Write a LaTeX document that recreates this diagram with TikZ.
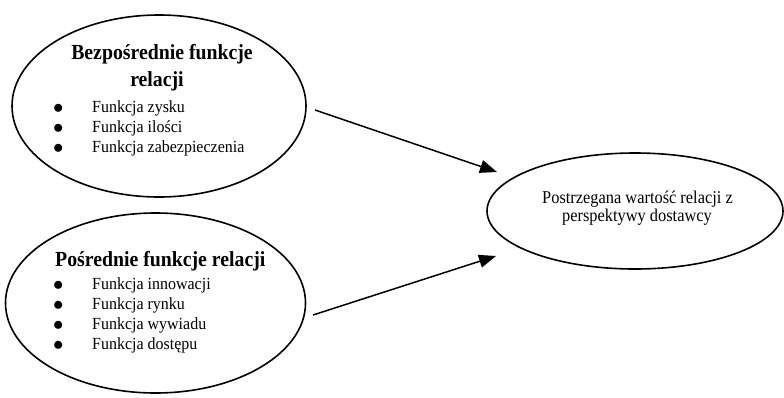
\documentclass[tikz,border=0pt]{standalone}
\usepackage{fontspec}
\setmainfont{Liberation Serif}
\newfontfamily\headfont{Liberation Serif}[FakeStretch=0.92]
\newfontfamily\itemfont{Liberation Serif}[FakeStretch=0.94]
\newfontfamily\goalfont{Liberation Serif}[FakeStretch=0.91]
\usetikzlibrary{shapes.geometric,arrows.meta}

\tikzset{
  oval/.style={draw=black, line width=1.6pt, ellipse, inner sep=0pt},
  heading/.style={inner sep=0pt, font=\headfont\bfseries\fontsize{21.5}{21.5}\selectfont},
  entry/.style={inner sep=0pt, anchor=base west, font=\itemfont\fontsize{17}{17}\selectfont},
  goaltext/.style={inner sep=0pt, anchor=base, font=\goalfont\fontsize{18}{18}\selectfont},
  link/.style={draw=black, line width=1.5pt, -{Triangle[length=17pt,width=13pt]}}
}
% bullet list line: large dot, then the item text at a fixed indent
\newcommand{\bul}[1]{\makebox[39pt][l]{{\fontsize{21}{21}\selectfont\raisebox{-1pt}{$\bullet$}}}#1}

\begin{document}
\begin{tikzpicture}[x=1pt, y=-1pt]
  \useasboundingbox (0,0) rectangle (784,397);

  % ellipses
  \node[oval, minimum width=294pt, minimum height=182pt] (direct) at (159,106) {};
  \node[oval, minimum width=300pt, minimum height=180pt] (indirect) at (155.5,303) {};
  \node[oval, minimum width=296pt, minimum height=116pt] (value) at (635,211) {};

  % direct functions
  \node[heading, anchor=base] (dh1) at (162,59) {Bezpośrednie funkcje};
  \node[heading, anchor=base] (dh2) at (157,86) {relacji};
  \node[entry] (d1) at (53,112) {\bul{Funkcja zysku}};
  \node[entry] (d2) at (53,132) {\bul{Funkcja ilości}};
  \node[entry] (d3) at (53,152) {\bul{Funkcja zabezpieczenia}};

  % indirect functions
  \node[heading, anchor=base west] (ih) at (55,266) {Pośrednie funkcje relacji};
  \node[entry] (i1) at (53,289) {\bul{Funkcja innowacji}};
  \node[entry] (i2) at (53,309) {\bul{Funkcja rynku}};
  \node[entry] (i3) at (53,329) {\bul{Funkcja wywiadu}};
  \node[entry] (i4) at (53,349) {\bul{Funkcja dostępu}};

  % perceived value
  \node[goaltext] (v1) at (637.5,203) {Postrzegana wartość relacji z};
  \node[goaltext] (v2) at (637,221) {perspektywy dostawcy};

  % connector ends
  \coordinate (dOut) at (315,110);
  \coordinate (dIn) at (497,172);
  \coordinate (iOut) at (313,315);
  \coordinate (iIn) at (496,256);

  \draw[link] (dOut) -- (dIn);
  \draw[link] (iOut) -- (iIn);
\end{tikzpicture}
\end{document}
